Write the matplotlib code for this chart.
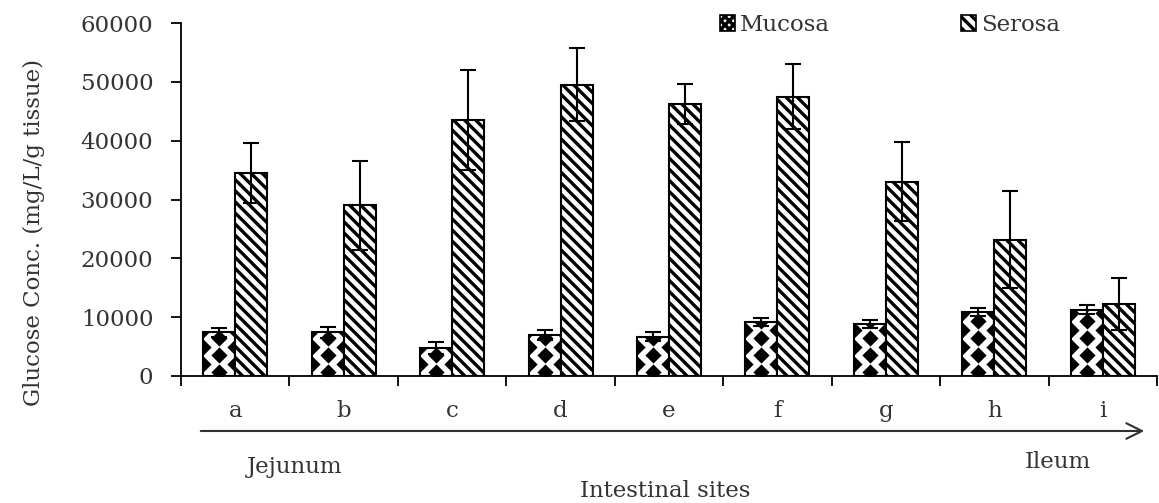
import numpy as np
import matplotlib
matplotlib.use("Agg")
import matplotlib.pyplot as plt
from matplotlib.patches import Patch

plt.rcParams['font.family'] = ['DejaVu Serif']
plt.rcParams['hatch.linewidth'] = 2.4

# Data
sites = ['a', 'b', 'c', 'd', 'e', 'f', 'g', 'h', 'i']
mucosa = [7400, 7400, 4800, 7000, 6700, 9200, 8800, 10900, 11300]
mucosa_err = [700, 900, 1000, 900, 800, 700, 700, 700, 700]
serosa = [34500, 29000, 43500, 49500, 46200, 47500, 33000, 23200, 12300]
serosa_err = [5100, 7500, 8500, 6200, 3400, 5500, 6700, 8200, 4400]

txt_col = '#333333'
fs = 16.5
fig = plt.figure(figsize=(11.59, 5.03), dpi=100)
ax = fig.add_axes([181 / 1159, 1 - 376 / 503, 976 / 1159, 353 / 503])

x = np.arange(len(sites))
w = 0.295

mb = ax.bar(x - w / 2, mucosa, w, color='white', edgecolor='black', linewidth=1.5, zorder=2)
sb = ax.bar(x + w / 2, serosa, w, color='white', edgecolor='black', linewidth=1.5,
            hatch='\\' * 3, zorder=2)

# diamond checker pattern inside the mucosa bars
px_y = 353 / 60000    # pixels per unit
step_y = 17 / px_y
for rect in mb:
    x0, h = rect.get_x(), rect.get_height()
    pts = []
    for j, cx in enumerate([x0, x0 + w / 2, x0 + w]):
        off = 4 / px_y if j == 1 else 4 / px_y + step_y / 2
        yy = np.arange(off, h + step_y, step_y)
        pts += [(cx, v) for v in yy]
    pts = np.array(pts)
    sc = ax.scatter(pts[:, 0], pts[:, 1], marker='D', s=68, color='black',
                    linewidths=0, zorder=3)
    sc.set_clip_path(rect)

ax.errorbar(x - w / 2, mucosa, yerr=mucosa_err, fmt='none', ecolor='black',
            elinewidth=1.5, capsize=6, capthick=1.5, zorder=4)
ax.errorbar(x + w / 2, serosa, yerr=serosa_err, fmt='none', ecolor='black',
            elinewidth=1.5, capsize=6, capthick=1.5, zorder=4)

ax.set_xlim(-0.5, len(sites) - 0.5)
ax.set_ylim(0, 60000)
ax.set_yticks(np.arange(0, 60001, 10000))
ax.set_xticks(x)
ax.set_xticklabels(sites)
ax.set_xticks(np.arange(-0.5, len(sites)), minor=True)
ax.tick_params(axis='x', which='major', length=0, pad=17, labelsize=fs, labelcolor=txt_col)
ax.tick_params(axis='x', which='minor', length=7, width=1.3, direction='out')
ax.tick_params(axis='y', length=7, width=1.3, direction='out', pad=13,
               labelsize=fs, labelcolor=txt_col)
for s in ['top', 'right']:
    ax.spines[s].set_visible(False)
for s in ['left', 'bottom']:
    ax.spines[s].set_linewidth(1.3)

fig.text(34 / 1159, 1 - 232 / 503, 'Glucose Conc. (mg/L/g tissue)', rotation=90,
         ha='center', va='center', fontsize=16.5, color=txt_col)

# arrow along the gut
ax.annotate('', xy=(1147 / 1159, 1 - 431 / 503), xytext=(198 / 1159, 1 - 431 / 503),
            xycoords='figure fraction', textcoords='figure fraction',
            arrowprops=dict(arrowstyle='->', color='#303030', lw=1.5,
                            mutation_scale=28))
fig.text(295 / 1159, 1 - 467 / 503, 'Jejunum', ha='center', va='center',
         fontsize=fs, color=txt_col)
fig.text(1058 / 1159, 1 - 462 / 503, 'Ileum', ha='center', va='center',
         fontsize=fs, color=txt_col)
fig.text(665 / 1159, 1 - 491 / 503, 'Intestinal sites', ha='center', va='center',
         fontsize=fs, color=txt_col)

handles = [Patch(facecolor='white', edgecolor='black', hatch='xxxx', linewidth=1.2),
           Patch(facecolor='white', edgecolor='black', hatch='\\' * 3, linewidth=1.2)]
fig.legend(handles, ['Mucosa', 'Serosa'], ncol=2, frameon=False, fontsize=fs,
           loc='center left', bbox_to_anchor=(699 / 1159, 1 - 25 / 503),
           handlelength=0.65, handleheight=0.65, handletextpad=0.25,
           columnspacing=5.7, labelcolor=txt_col)

fig.savefig('out.png', dpi=100)
